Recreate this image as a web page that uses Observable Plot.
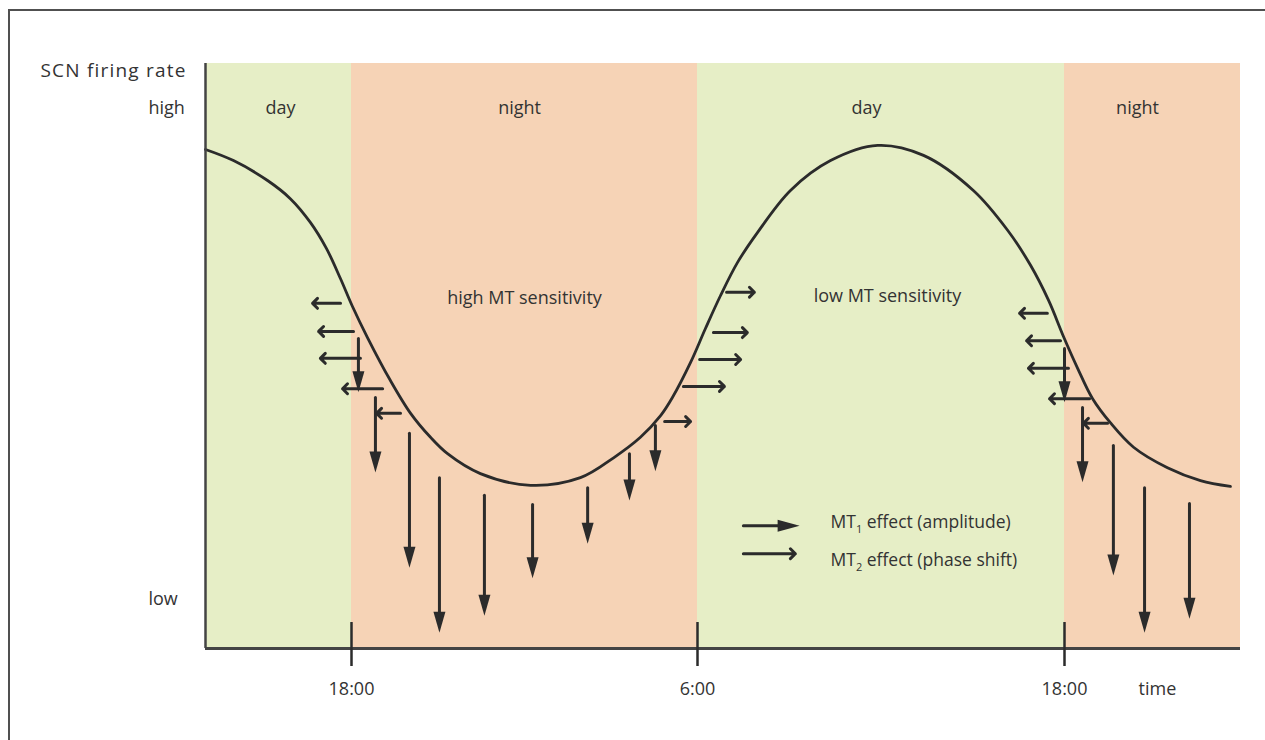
<!DOCTYPE html>
<html><head><meta charset="utf-8">
<script src="https://cdn.jsdelivr.net/npm/d3@7"></script>
<script src="https://cdn.jsdelivr.net/npm/@observablehq/plot@0.6"></script>
<style>
body{margin:0;background:#fff;overflow:hidden;font-family:"Open Sans",sans-serif;}
#wrap{position:relative;width:1265px;height:740px;}
#chart{position:absolute;left:0;top:0;}
#border{position:absolute;left:8px;top:9px;width:1300px;height:800px;border:2.5px solid #505050;pointer-events:none;}
</style></head><body>
<div id="wrap"><div id="chart"></div><div id="border"></div></div>
<script>
// ---- data (x in hours, y = relative SCN firing rate 0..100) ----
const bandStart = [12.94, 18, 30, 42];
const bandEnd = [18, 30, 42, 47.76];
const bandPeriod = ["day", "night", "day", "night"];
const bandLabelTime = [15.54, 23.83, 35.53, 44.39];
const bandLabelRate = [92.3, 92.3, 92.3, 92.3];

const curveTime = [12.94, 13.91, 15.09, 15.88, 16.58, 17.13, 17.62, 18.03, 18.55, 19.35, 20.05, 20.74, 21.33, 22.47, 24.21, 25.94, 27.09, 28.02, 28.72, 29.13, 29.76, 30.26, 30.75, 31.31, 31.96, 33.04, 34.35, 35.89, 37.39, 39.02, 40.14, 40.89, 41.48, 41.97, 42.43, 42.92, 43.50, 44.26, 45.37, 46.45, 47.43];
const curveRate = [85.3, 83.4, 80.0, 76.9, 72.8, 68.4, 63.2, 58.5, 53.2, 45.8, 40.2, 36.1, 33.3, 29.9, 27.9, 29.2, 32.6, 36.1, 39.8, 42.9, 48.9, 54.7, 60.3, 66.0, 71.1, 78.3, 83.4, 86.0, 84.3, 78.3, 71.5, 65.5, 59.5, 53.3, 47.9, 42.7, 38.6, 34.4, 30.9, 28.7, 27.7];

// MT2 phase-shift arrows (horizontal)
const phaseStart = [17.62, 18.07, 18.31, 19.08, 19.70, 30.95, 30.52, 30.07, 29.51, 28.86, 41.44, 41.87, 42.13, 42.82, 43.41];
const phaseEnd   = [16.65, 16.86, 16.92, 17.69, 18.87, 31.86, 31.63, 31.41, 30.88, 29.76, 40.53, 40.76, 40.82, 41.51, 42.62];
const phaseRate  = [59.0, 54.2, 49.6, 44.4, 40.2, 60.9, 54.0, 49.4, 44.8, 38.8, 57.3, 52.6, 47.9, 42.7, 38.5];

// MT1 amplitude arrows (vertical)
const ampTime = [18.24, 18.83, 20.01, 21.05, 22.61, 24.28, 26.19, 27.64, 28.54, 42.00, 42.59, 43.60, 44.62, 46.09];
const ampFrom = [53.0, 42.9, 36.8, 29.2, 26.2, 24.6, 27.5, 33.3, 38.1, 51.3, 41.2, 34.7, 27.5, 24.8];
const ampTo   = [43.8, 30.1, 13.8, 2.7, 5.6, 12.0, 17.9, 25.3, 30.3, 42.1, 28.4, 12.5, 2.7, 5.1];

const sensLabels = ["high MT sensitivity", "low MT sensitivity"];
const sensTime = [24.0, 36.21];
const sensRate = [59.8, 60.3];

const legendLabels = ["MT₁ effect (amplitude)", "MT₂ effect (phase shift)"];
const legendArrowStart = [31.50, 31.50];
const legendArrowEnd = [33.34, 33.20];
const legendArrowRate = [21.0, 16.2];
const legendTextTime = [34.35, 34.35];
const legendTextRate = [21.5, 15.0];

const tickTimes = [18, 30, 42];
const tickLabels = ["18:00", "6:00", "18:00"];
const tickLow = -3.08, tickHigh = 4.44;
const rateTicks = [92.3, 8.4];
const rateLabels = ["high", "low"];
const xLabel = "time";
const xLabelTime = 45.04;
const yLabel = "SCN firing rate";

// the original drawing's time axis is not uniform: knots (hours) and their drawing widths
const timeKnots = [12.94, 18, 30, 42, 47.76];
const drawKnots = [0, 146, 492, 859, 1035];

// ---- build tables ----
const bands = bandStart.map((s, i) => ({start: s, end: bandEnd[i], period: bandPeriod[i], lt: bandLabelTime[i], lr: bandLabelRate[i]}));
const curve = curveTime.map((t, i) => ({t, r: curveRate[i]}));
const phase = phaseStart.map((s, i) => ({start: s, end: phaseEnd[i], rate: phaseRate[i]}));
const amp = ampTime.map((t, i) => ({t, from: ampFrom[i], to: ampTo[i]}));
const sens = sensLabels.map((l, i) => ({l, t: sensTime[i], r: sensRate[i]}));
const legend = legendLabels.map((l, i) => ({l, s: legendArrowStart[i], e: legendArrowEnd[i], ar: legendArrowRate[i], tt: legendTextTime[i], tr: legendTextRate[i]}));
const ticks = tickTimes.map((t, i) => ({t, label: tickLabels[i]}));

const ink = "#2b2b2b";
const txt = "#333333";
const downHead = {draw(c) { c.moveTo(0, 0); c.lineTo(-6, -21); c.lineTo(6, -21); c.closePath(); }};
const rightHead = {draw(c) { c.moveTo(0, 0); c.lineTo(-22, -6); c.lineTo(-22, 6); c.closePath(); }};
const timeWarp = d3.scaleLinear().domain(timeKnots).range(drawKnots);

const plot = Plot.plot({
  width: 1265, height: 740,
  marginLeft: 205, marginRight: 25, marginTop: 63, marginBottom: 92,
  style: {fontFamily: "'Open Sans', sans-serif", fontSize: "18px", color: txt, background: "transparent", overflow: "visible"},
  x: {transform: d => timeWarp(d), domain: [drawKnots[0], drawKnots[drawKnots.length - 1]], label: null, axis: null},
  y: {domain: [0, 100], label: null},
  color: {domain: ["day", "night"], range: ["#e6eec6", "#f6d3b6"]},
  marks: [
    Plot.rect(bands, {x1: "start", x2: "end", y1: 0, y2: 100, fill: "period"}),
    Plot.text(bands, {x: "lt", y: "lr", text: "period", fontSize: 18, fill: txt}),
    Plot.text(sens, {x: "t", y: "r", text: "l", fontSize: 18, fill: txt}),
    Plot.line(curve, {x: "t", y: "r", curve: "catmull-rom", stroke: ink, strokeWidth: 2.8}),
    Plot.arrow(phase, {x1: "start", x2: "end", y1: "rate", y2: "rate", stroke: ink, strokeWidth: 3, headAngle: 90, headLength: 3.5}),
    Plot.arrow(amp, {x1: "t", x2: "t", y1: "from", y2: "to", stroke: ink, strokeWidth: 3, headLength: 0, insetEnd: 10}),
    Plot.dot(amp, {x: "t", y: "to", symbol: downHead, r: 5, fill: ink, stroke: "none"}),
    // legend
    Plot.arrow(legend.slice(0, 1), {x1: "s", x2: "e", y1: "ar", y2: "ar", stroke: ink, strokeWidth: 3, headLength: 0, insetEnd: 10}),
    Plot.dot(legend.slice(0, 1), {x: "e", y: "ar", symbol: rightHead, r: 5, fill: ink, stroke: "none"}),
    Plot.arrow(legend.slice(1), {x1: "s", x2: "e", y1: "ar", y2: "ar", stroke: ink, strokeWidth: 3, headAngle: 90, headLength: 3.5}),
    Plot.text(legend, {x: "tt", y: "tr", text: "l", textAnchor: "start", fontSize: 17.5, fill: txt}),
    // axes
    Plot.ruleY([0], {stroke: "#444", strokeWidth: 2.8}),
    Plot.ruleX([timeKnots[0]], {y1: 0, y2: 100, stroke: "#444", strokeWidth: 2.5}),
    Plot.ruleX(ticks, {x: "t", y1: tickLow, y2: tickHigh, stroke: ink, strokeWidth: 2.5}),
    Plot.text(ticks, {x: "t", text: "label", frameAnchor: "bottom", dy: 41, lineAnchor: "middle", fontSize: 18, fill: txt}),
    Plot.axisY({ticks: rateTicks, tickFormat: d => rateLabels[rateTicks.indexOf(d)], tickSize: 0, tickPadding: 0, textAnchor: "start", dx: -57, fontSize: 18, fill: txt, label: null}),
    Plot.text([xLabel], {x: xLabelTime, frameAnchor: "bottom", dy: 41, lineAnchor: "middle", fontSize: 18, fill: txt}),
    Plot.text([yLabel], {frameAnchor: "top-left", dx: -165, dy: 7, textAnchor: "start", lineAnchor: "middle", fontSize: 19, fill: txt})
  ]
});

// subscripts in legend text, letter spacing for y label
plot.querySelectorAll("text").forEach(t => {
  const s = t.textContent;
  const m = s.match(/^(MT)([₁₂])(.*)$/);
  if (m) {
    t.textContent = "";
    const ns = "http://www.w3.org/2000/svg";
    const a = document.createElementNS(ns, "tspan"); a.textContent = m[1]; t.appendChild(a);
    const b = document.createElementNS(ns, "tspan"); b.textContent = m[2] === "₁" ? "1" : "2";
    b.setAttribute("font-size", "11"); b.setAttribute("dy", "5"); t.appendChild(b);
    const c = document.createElementNS(ns, "tspan"); c.textContent = m[3]; c.setAttribute("dy", "-5"); t.appendChild(c);
  }
  if (s === yLabel) t.setAttribute("letter-spacing", "1.2");
});
document.getElementById("chart").appendChild(plot);
</script>
</body></html>
